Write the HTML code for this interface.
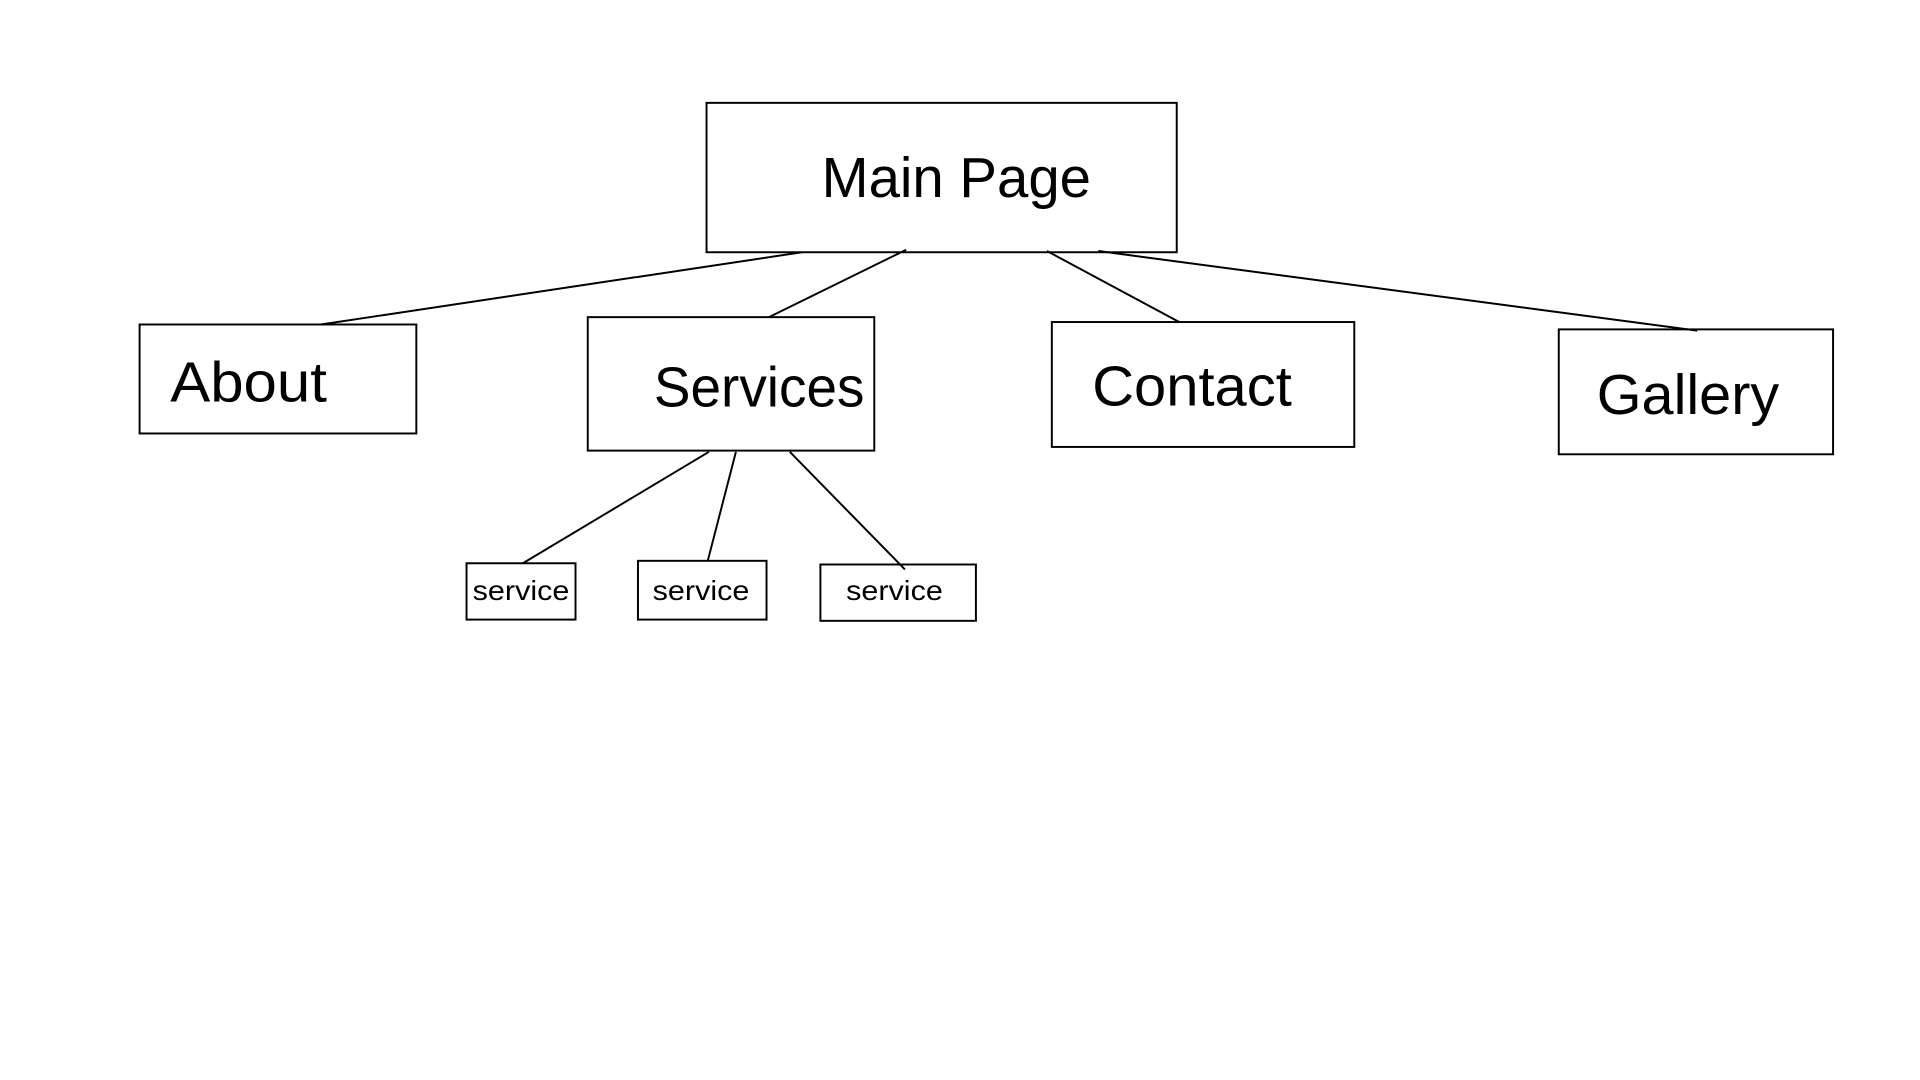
<!DOCTYPE html>
<html><head><meta charset="utf-8"><style>html,body{margin:0;padding:0;background:#fff;}svg{display:block}</style></head>
<body>
<svg width="1920" height="1080" viewBox="0 0 1568 882" preserveAspectRatio="none" xmlns="http://www.w3.org/2000/svg">
<rect width="1568" height="882" fill="#fff"/>
<g fill="none" stroke="#000" stroke-width="1.6">
<rect x="577" y="84" width="384" height="122"/>
<rect x="114" y="265" width="226" height="89"/>
<rect x="480" y="259" width="234" height="109"/>
<rect x="859" y="263" width="247" height="102"/>
<rect x="1273" y="269" width="224" height="102"/>
<rect x="381" y="460" width="89" height="46"/>
<rect x="521" y="458" width="105" height="48"/>
<rect x="670" y="461" width="127" height="46"/>
<line x1="655" y1="206" x2="262" y2="265"/>
<line x1="740" y1="204" x2="628" y2="259"/>
<line x1="855" y1="205" x2="963" y2="263"/>
<line x1="897" y1="205" x2="1386" y2="270"/>
<line x1="579" y1="369" x2="427" y2="460"/>
<line x1="601" y1="369" x2="578" y2="458"/>
<line x1="645" y1="369" x2="739" y2="465"/>
</g>
<g font-family="Liberation Sans, sans-serif" fill="#000">
<text x="671" y="161" font-size="46" textLength="220" lengthAdjust="spacingAndGlyphs">Main Page</text>
<text x="139" y="328" font-size="46" textLength="128" lengthAdjust="spacingAndGlyphs">About</text>
<text x="534" y="332" font-size="46" textLength="172" lengthAdjust="spacingAndGlyphs">Services</text>
<text x="892" y="331" font-size="46" textLength="163" lengthAdjust="spacingAndGlyphs">Contact</text>
<text x="1304" y="338" font-size="46" textLength="149" lengthAdjust="spacingAndGlyphs">Gallery</text>
<text x="386" y="490" font-size="23" textLength="79" lengthAdjust="spacingAndGlyphs">service</text>
<text x="533" y="490" font-size="23" textLength="79" lengthAdjust="spacingAndGlyphs">service</text>
<text x="691" y="490" font-size="23" textLength="79" lengthAdjust="spacingAndGlyphs">service</text>
</g>
</svg>
</body></html>
